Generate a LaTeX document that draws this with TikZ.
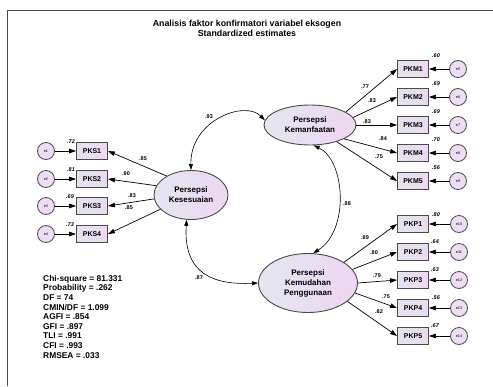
\documentclass[tikz,border=0pt]{standalone}
\usepackage{fontspec}
\setmainfont{Liberation Sans}
\usetikzlibrary{shapes.geometric,arrows.meta}
\definecolor{boxl}{HTML}{E3E3EE}
\definecolor{boxr}{HTML}{ECDAF0}
\definecolor{elll}{HTML}{E4E6F0}
\definecolor{ellr}{HTML}{EED6F1}
\definecolor{errf}{HTML}{EEDDF4}
\definecolor{edge}{HTML}{4A4A4A}

\begin{document}
\begin{tikzpicture}[x=1pt,y=-1pt,
  obs/.style={draw=edge,line width=0.9pt,left color=boxl,right color=boxr,minimum width=31pt,minimum height=17pt,inner sep=0pt,font=\fontsize{7}{8}\selectfont\bfseries},
  lat/.style={ellipse,draw=edge,line width=0.9pt,left color=elll,right color=ellr,inner sep=0pt,align=center,font=\fontsize{8}{10}\selectfont\bfseries},
  err/.style={circle,draw=edge,line width=0.8pt,fill=errf,minimum size=17pt,inner sep=0pt,font=\fontsize{3.8}{4}\selectfont},
  arr/.style={line width=0.7pt,-{Triangle[length=7pt,width=4.5pt]}},
  corr/.style={line width=0.6pt,{Triangle[length=6pt,width=4pt]}-{Triangle[length=6pt,width=4pt]}},
  est/.style={inner sep=0pt,font=\fontsize{5.5}{6}\selectfont\bfseries},
  rsq/.style={inner sep=0pt,font=\fontsize{5.5}{6}\selectfont\bfseries\itshape}]
\useasboundingbox (0,0) rectangle (493,386);
\draw [edge,line width=1pt] (7,386) -- (7,10) -- (493,10);
\node [align=center,font=\fontsize{8.8}{10}\selectfont\bfseries] (title) at (247,28) {Analisis faktor konfirmatori variabel eksogen\\Standardized estimates};

\node [lat,minimum width=74pt,minimum height=49pt] (kes) at (191,195) {Persepsi\\Kesesuaian};
\node [lat,minimum width=92pt,minimum height=40pt] (kem) at (310,125) {Persepsi\\Kemanfaatan};
\node [lat,minimum width=99pt,minimum height=59pt] (kmd) at (308,283) {Persepsi\\Kemudahan\\Penggunaan};

\node [obs] (pks1) at (92,151) {PKS1};
\node [obs] (pks2) at (92,179) {PKS2};
\node [obs] (pks3) at (92,206) {PKS3};
\node [obs] (pks4) at (92,234) {PKS4};
\node [err] (e1) at (46,151) {e1};
\node [err] (e2) at (46,179) {e2};
\node [err] (e3) at (46,206) {e3};
\node [err] (e4) at (46,234) {e4};

\node [obs] (pkm1) at (413,69) {PKM1};
\node [obs] (pkm2) at (413,97) {PKM2};
\node [obs] (pkm3) at (413,125) {PKM3};
\node [obs] (pkm4) at (413,153) {PKM4};
\node [obs] (pkm5) at (413,181) {PKM5};
\node [err] (e5) at (458,69) {e5};
\node [err] (e6) at (458,97) {e6};
\node [err] (e7) at (458,125) {e7};
\node [err] (e8) at (458,153) {e8};
\node [err] (e9) at (458,181) {e9};

\node [obs] (pkp1) at (413,224) {PKP1};
\node [obs] (pkp2) at (413,252) {PKP2};
\node [obs] (pkp3) at (413,280) {PKP3};
\node [obs] (pkp4) at (413,308) {PKP4};
\node [obs] (pkp5) at (413,336) {PKP5};
\node [err] (e10) at (459,224) {e10};
\node [err] (e11) at (459,252) {e11};
\node [err] (e12) at (459,280) {e12};
\node [err] (e13) at (459,308) {e13};
\node [err] (e14) at (459,336) {e14};

\draw [arr] (kes.142) -- (pks1.east);
\draw [arr] (kes.165) -- (pks2.east);
\draw [arr] (kes.186) -- (pks3.east);
\draw [arr] (kes.205) -- (pks4.east);
\draw [arr] (e1) -- (pks1);
\draw [arr] (e2) -- (pks2);
\draw [arr] (e3) -- (pks3);
\draw [arr] (e4) -- (pks4);

\draw [arr] (kem.20) -- (pkm1.west);
\draw [arr] (kem.10) -- (pkm2.west);
\draw [arr] (kem.east) -- (pkm3.west);
\draw [arr] (kem.-22) -- (pkm4.west);
\draw [arr] (kem.-32) -- (pkm5.west);
\draw [arr] (e5) -- (pkm1);
\draw [arr] (e6) -- (pkm2);
\draw [arr] (e7) -- (pkm3);
\draw [arr] (e8) -- (pkm4);
\draw [arr] (e9) -- (pkm5);

\draw [arr] (kmd.30) -- (pkp1.west);
\draw [arr] (kmd.17) -- (pkp2.west);
\draw [arr] (kmd.east) -- (pkp3.west);
\draw [arr] (kmd.-12) -- (pkp4.west);
\draw [arr] (kmd.-25) -- (pkp5.west);
\draw [arr] (e10) -- (pkp1);
\draw [arr] (e11) -- (pkp2);
\draw [arr] (e12) -- (pkp3);
\draw [arr] (e13) -- (pkp4);
\draw [arr] (e14) -- (pkp5);

\draw [corr] (kes.north) .. controls (190,120) and (245,100) .. (kem.174);
\draw [corr] (kem.-80) .. controls (345,160) and (350,230) .. (kmd.80);
\draw [corr] (kes.-100) .. controls (183,275) and (215,285) .. (kmd.west);

\node [est] (c93) at (209,117) {.93};
\node [est] (c88) at (347,204) {.88};
\node [est] (c87) at (199,278) {.87};

\node [est] (l1) at (143,159) {.85};
\node [est] (l2) at (126,174) {.90};
\node [est] (l3) at (132,196) {.83};
\node [est] (l4) at (129,208) {.85};
\node [rsq] (r1) at (71,142) {.72};
\node [rsq] (r2) at (71,170) {.81};
\node [rsq] (r3) at (70,197) {.69};
\node [rsq] (r4) at (70,225) {.73};

\node [est] (l5) at (365,87) {.77};
\node [est] (l6) at (372,101) {.83};
\node [est] (l7) at (367,122) {.83};
\node [est] (l8) at (383,139) {.84};
\node [est] (l9) at (379,157) {.75};
\node [rsq] (r5) at (436,56) {.60};
\node [rsq] (r6) at (436,84) {.69};
\node [rsq] (r7) at (436,112) {.69};
\node [rsq] (r8) at (436,140) {.70};
\node [rsq] (r9) at (436,168) {.56};

\node [est] (l10) at (365,238) {.89};
\node [est] (l11) at (374,253) {.80};
\node [est] (l12) at (377,276) {.79};
\node [est] (l13) at (386,297) {.75};
\node [est] (l14) at (379,312) {.82};
\node [rsq] (r10) at (436,215) {.80};
\node [rsq] (r11) at (435,242) {.64};
\node [rsq] (r12) at (435,270) {.63};
\node [rsq] (r13) at (436,298) {.56};
\node [rsq] (r14) at (435,326) {.67};

\node [anchor=north west,inner sep=0pt,align=left,font=\fontsize{8.4}{9.6}\selectfont\bfseries] (fit) at (43,275) {Chi-square = 81.331\\Probability = .262\\DF = 74\\CMIN/DF = 1.099\\AGFI = .854\\GFI = .897\\TLI = .991\\CFI = .993\\RMSEA = .033};
\end{tikzpicture}
\end{document}
